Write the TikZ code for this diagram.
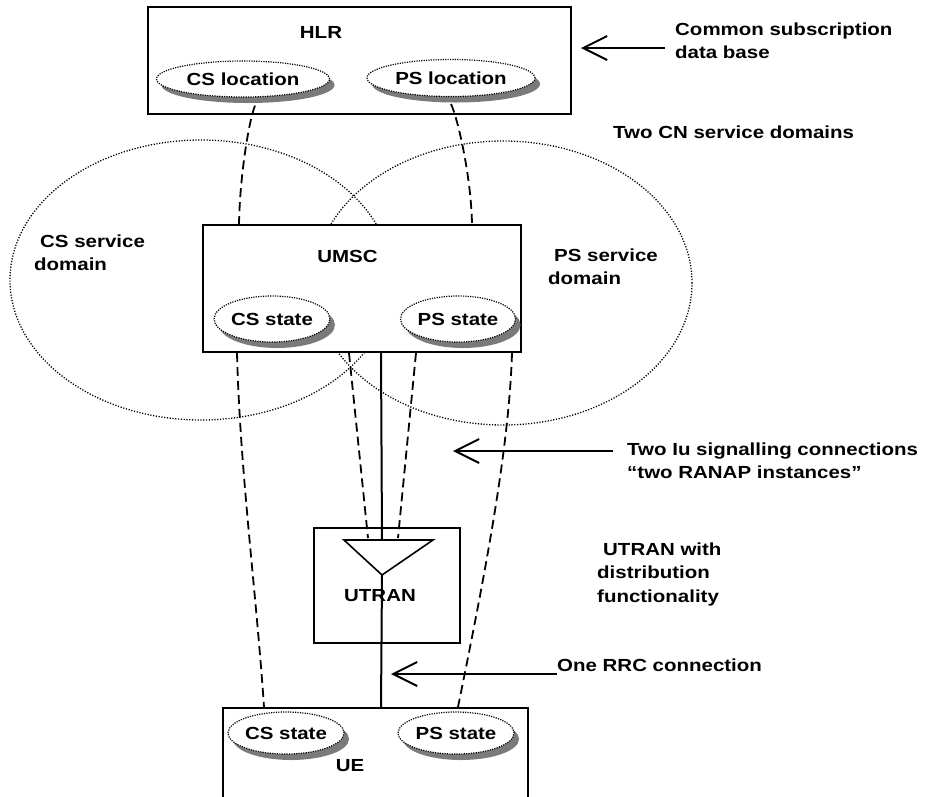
\documentclass[tikz,border=0pt]{standalone}
\usepackage{fontspec}
\setmainfont{Liberation Sans}[FakeStretch=1.17]
\usetikzlibrary{shapes.geometric,shadows,arrows.meta}

\begin{document}
\begin{tikzpicture}[x=1pt,y=-1pt,
  every node/.style={font=\fontsize{17.5}{23.5}\selectfont\bfseries, inner sep=0pt},
  netbox/.style={draw, line width=2pt, fill=white, rectangle},
  svcdomain/.style={line width=1.3pt, dash pattern=on 1.2pt off 1.6pt},
  record/.style={ellipse, draw, fill=white, line width=1.2pt,
    dash pattern=on 1.2pt off 1.2pt,
    drop shadow={shadow xshift=5pt, shadow yshift=-6pt, fill=black!52, opacity=1}},
  sig/.style={line width=1.8pt, dash pattern=on 9pt off 5pt},
  link/.style={line width=2pt},
  pointer/.style={line width=2pt, -{Straight Barb[length=24pt,width=24pt]}},
  note/.style={align=left, anchor=north west}
]
\useasboundingbox (0,0) rectangle (940,796);
\clip (0,0) rectangle (940,796);

% service domains
\draw[svcdomain] (201,280) ellipse [x radius=191pt, y radius=140pt];
\draw[svcdomain] (503,283) ellipse [x radius=189pt, y radius=142pt];

% network elements
\node[netbox, minimum width=423pt, minimum height=107pt] (hlr) at (359.5,60.5) {};
\node[netbox, minimum width=318pt, minimum height=127pt] (umsc) at (362,288.5) {};
\node[netbox, minimum width=146pt, minimum height=115pt] (utran) at (387,585.5) {};
\node[netbox, minimum width=305pt, minimum height=110pt] (ue) at (375.5,763) {};

\node[anchor=base] (hlrtitle) at (321,38) {HLR};
\node[anchor=base] (umsctitle) at (347.5,262) {UMSC};
\node[anchor=base] (utrantitle) at (380,601.5) {UTRAN};
\node[anchor=base] (uetitle) at (350,771.5) {UE};

% location and state records
\node[record, minimum width=173pt, minimum height=36pt] (csloc) at (243,79) {CS location};
\node[record, minimum width=168pt, minimum height=37pt] (psloc) at (451,78) {PS location};
\node[record, minimum width=114pt, minimum height=46pt] (umsccs) at (272,319) {CS state};
\node[record, minimum width=115pt, minimum height=46pt] (umscps) at (458,319) {PS state};
\node[record, minimum width=116pt, minimum height=42pt] (uecs) at (286,733) {CS state};
\node[record, minimum width=116pt, minimum height=42pt] (ueps) at (456,733) {PS state};

% distribution function inside the UTRAN
\coordinate (tl) at (344,540);
\coordinate (tr) at (433,540);
\coordinate (tm) at (382,540);
\coordinate (tb) at (382,575);
\coordinate (iucs) at (368,538);
\coordinate (iups) at (398,538);
\draw[line width=1.6pt, line join=miter] (tl) -- (tr) -- (tb) -- cycle;

% signalling relations
\draw[sig] ([xshift=12pt,yshift=-8pt]csloc.south) .. controls +(-6,15) and +(1,-50) .. ([xshift=37pt]umsc.north west);
\draw[sig] ([yshift=-7pt]psloc.south) .. controls +(6,12) and +(-1,-50) .. ([xshift=270pt]umsc.north west);
\draw[sig] ([xshift=35pt]umsc.south west) .. controls +(3,118) and +(-8,-118) .. ([xshift=42pt]ue.north west);
\draw[sig] ([xshift=310pt]umsc.south west) .. controls +(-3,98) and +(26,-128) .. ([xshift=236pt]ue.north west);
\draw[sig] ([xshift=147pt]umsc.south west) -- (iucs);
\draw[sig] ([xshift=214pt]umsc.south west) -- (iups);

% Iu and RRC bearers
\draw[link] ([xshift=179pt]umsc.south west) -- (tm);
\draw[link] (tb) -- ([xshift=159pt]ue.north west);

% annotations
\node[note] (subsnote) at (675,22.5) {Common subscription\\data base};
\node[anchor=base west] (cnnote) at (613,138) {Two CN service domains};
\node[note] (csdomain) at (34,234.5) {\hspace*{6pt}CS service\\domain};
\node[note] (psdomain) at (548,248.5) {\hspace*{6pt}PS service\\domain};
\node[note] (iunote) at (627,442.5) {Two Iu signalling connections\\“two RANAP instances”};
\node[note] (utrannote) at (597,542.5) {\hspace*{6pt}UTRAN with\\distribution\\functionality};
\node[anchor=base west] (rrcnote) at (557,671) {One RRC connection};

\coordinate (a1tail) at (665,48);
\coordinate (a1tip) at (581,48);
\coordinate (a2tail) at (613,451);
\coordinate (a2tip) at (453,451);
\coordinate (a3tail) at (557,674);
\coordinate (a3tip) at (391,674);
\draw[pointer] (a1tail) -- (a1tip);
\draw[pointer] (a2tail) -- (a2tip);
\draw[pointer] (a3tail) -- (a3tip);
\end{tikzpicture}
\end{document}
